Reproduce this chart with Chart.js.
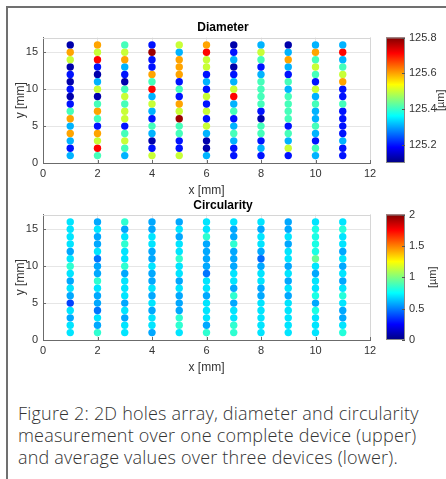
<!DOCTYPE html>
<html><head><meta charset="utf-8">
<script src="https://cdn.jsdelivr.net/npm/chart.js@4.4.1/dist/chart.umd.min.js"></script>
<style>
html,body{margin:0;padding:0;background:#fff;}
body{width:446px;height:479px;overflow:hidden;position:relative;}
#frame{position:absolute;left:6px;top:6px;width:600px;height:600px;border-left:2px solid #707070;border-top:2px solid #707070;}
canvas{position:absolute;left:0;}
#c1{top:0;}
#c2{top:198px;}
#caption{position:absolute;left:18px;top:402px;font-family:"Open Sans",Lato,sans-serif;font-weight:300;font-size:18px;letter-spacing:0.2px;line-height:22px;color:#333;white-space:nowrap;}
</style></head>
<body>
<div id="frame"></div>
<canvas id="c1" width="446" height="198" style="width:446px;height:198px"></canvas>
<canvas id="c2" width="446" height="187" style="width:446px;height:187px"></canvas>
<div id="caption">Figure 2: 2D holes array, diameter and circularity<br>measurement over one complete device (upper)<br>and average values over three devices (lower).</div>
<script>
// ---- data ----
const xCols = [1,2,3,4,5,6,7,8,9,10,11];
const yRows = [1,2,3,4,5,6,7,8,9,10,11,12,13,14,15,16];
const xTicks = [0,2,4,6,8,10,12];
const yTicks = [0,5,10,15];
const diameterTicks = [125.2,125.4,125.6,125.8];
const circularityTicks = [0,0.5,1,1.5,2];
const diameterRange = [125.1,125.8];
const circularityRange = [0,2];

// Diameter [µm], one array per x column, rows y = 1..16
const diameterX1  = [125.31,125.20,125.31,125.60,125.31,125.60,125.41,125.20,125.13,125.20,125.13,125.20,125.13,125.50,125.60,125.13];
const diameterX2  = [125.41,125.71,125.50,125.60,125.20,125.41,125.60,125.41,125.13,125.50,125.31,125.13,125.20,125.71,125.50,125.60];
const diameterX3  = [125.31,125.41,125.50,125.41,125.20,125.50,125.50,125.41,125.50,125.41,125.13,125.20,125.31,125.60,125.50,125.41];
const diameterX4  = [125.50,125.20,125.13,125.31,125.41,125.20,125.31,125.50,125.31,125.71,125.41,125.60,125.20,125.20,125.78,125.20];
const diameterX5  = [125.50,125.20,125.20,125.41,125.41,125.78,125.50,125.60,125.20,125.41,125.20,125.60,125.60,125.60,125.31,125.50];
const diameterX6  = [125.31,125.13,125.13,125.31,125.50,125.20,125.50,125.20,125.50,125.20,125.31,125.20,125.50,125.50,125.71,125.60];
const diameterX7  = [125.20,125.20,125.31,125.41,125.31,125.20,125.41,125.31,125.71,125.50,125.31,125.20,125.13,125.31,125.20,125.13];
const diameterX8  = [125.20,125.31,125.20,125.41,125.41,125.13,125.20,125.41,125.41,125.41,125.41,125.31,125.20,125.41,125.50,125.31];
const diameterX9  = [125.20,125.50,125.31,125.41,125.20,125.41,125.41,125.41,125.41,125.31,125.41,125.20,125.31,125.60,125.31,125.13];
const diameterX10 = [125.31,125.41,125.20,125.31,125.41,125.31,125.31,125.41,125.31,125.50,125.20,125.41,125.50,125.41,125.60,125.31];
const diameterX11 = [125.20,125.20,125.31,125.20,125.20,125.20,125.20,125.41,125.20,125.20,125.60,125.50,125.41,125.31,125.71,125.31];

// Circularity [µm], one array per x column, rows y = 1..16
const circularityX1  = [0.70,0.70,0.58,0.70,0.38,0.58,0.70,0.58,0.70,0.84,0.70,0.58,0.70,0.70,0.70,0.70];
const circularityX2  = [0.84,0.58,0.70,0.48,0.58,0.58,0.70,0.84,0.58,0.58,0.48,0.70,0.58,0.58,0.70,0.58];
const circularityX3  = [0.70,0.70,0.58,0.70,0.58,0.70,0.70,0.70,0.58,0.84,0.70,0.70,0.84,0.70,0.58,0.84];
const circularityX4  = [0.58,0.70,0.70,0.58,0.70,0.58,0.70,0.58,0.58,0.70,0.58,0.58,0.70,0.70,0.58,0.58];
const circularityX5  = [0.70,0.84,0.84,0.58,0.58,0.58,0.70,0.58,0.70,0.70,0.84,0.70,0.70,0.58,0.70,0.58];
const circularityX6  = [0.84,0.58,0.70,0.70,0.70,0.58,0.70,0.70,0.48,0.58,0.58,0.58,0.58,0.84,0.70,0.70];
const circularityX7  = [0.84,0.84,0.70,0.70,0.58,0.84,0.58,0.70,0.70,0.58,0.58,0.58,0.84,0.58,0.58,0.70];
const circularityX8  = [0.70,0.70,0.70,0.70,0.70,0.58,0.58,0.70,0.70,0.58,0.46,0.58,0.70,0.70,0.58,0.70];
const circularityX9  = [0.70,0.70,0.70,0.70,0.70,0.58,0.70,0.58,0.70,0.58,0.70,0.70,0.58,0.70,0.58,0.58];
const circularityX10 = [0.70,0.70,0.70,0.80,0.58,0.80,0.70,0.70,0.58,0.70,0.95,0.80,0.80,0.80,0.80,0.70];
const circularityX11 = [0.82,0.70,0.58,0.58,0.70,0.82,0.70,0.58,0.70,0.58,0.70,0.58,0.70,0.70,0.82,0.70];

const diameterCols = [diameterX1,diameterX2,diameterX3,diameterX4,diameterX5,diameterX6,diameterX7,diameterX8,diameterX9,diameterX10,diameterX11];
const circularityCols = [circularityX1,circularityX2,circularityX3,circularityX4,circularityX5,circularityX6,circularityX7,circularityX8,circularityX9,circularityX10,circularityX11];

// ---- rendering ----
Chart.defaults.font.family = "'Liberation Sans', Arial, sans-serif";
Chart.defaults.color = '#333';

function jet(t){
  t = Math.max(0, Math.min(1, t));
  const c = v => Math.round(255 * Math.max(0, Math.min(1, v)));
  return 'rgb(' + c(Math.min(4*t-1.5, -4*t+4.5)) + ',' + c(Math.min(4*t-0.5, -4*t+3.5)) + ',' + c(Math.min(4*t+0.5, -4*t+2.5)) + ')';
}

function makeChart(id, title, cols, range, cbTicks, L){
  const points = [];
  cols.forEach((col, i) => col.forEach((v, j) => points.push({x: xCols[i], y: yRows[j], v: v})));
  const setTicks = arr => s => { s.ticks = arr.map(v => ({value: v})); };
  const fixFit = (dim, size) => s => {
    s[dim] = size;
    s.paddingTop = 0; s.paddingBottom = 0; s.paddingLeft = 0; s.paddingRight = 0;
  };
  const fmt = v => String(+(+v).toFixed(2));
  const decor = {
    id: 'decor',
    beforeDatasetsDraw(chart){
      const {ctx, chartArea: a} = chart;
      ctx.save();
      ctx.strokeStyle = '#d6d6d6'; ctx.lineWidth = 1;
      ctx.beginPath();
      ctx.moveTo(a.left, Math.round(a.top)+0.5); ctx.lineTo(a.right, Math.round(a.top)+0.5);
      ctx.moveTo(Math.round(a.right)+0.5, a.top); ctx.lineTo(Math.round(a.right)+0.5, a.bottom);
      ctx.stroke();
      ctx.strokeStyle = '#6b6b6b';
      ctx.beginPath();
      const xs = chart.scales.x, ys = chart.scales.y;
      xTicks.forEach(v => { const p = Math.round(xs.getPixelForValue(v))+0.5; ctx.moveTo(p, a.bottom); ctx.lineTo(p, a.bottom-3); });
      yTicks.forEach(v => { const p = Math.round(ys.getPixelForValue(v))+0.5; ctx.moveTo(a.left, p); ctx.lineTo(a.left+3, p); });
      ctx.stroke();
      ctx.restore();
    },
    afterDraw(chart){
      const {ctx, chartArea: a} = chart;
      const cb = chart.scales.cb;
      const x0 = a.right + 16, w = 19;
      const top = cb.getPixelForValue(range[1]), bot = cb.getPixelForValue(range[0]);
      ctx.save();
      const g = ctx.createLinearGradient(0, bot, 0, top);
      [0, 0.125, 0.375, 0.625, 0.875, 1].forEach(s => g.addColorStop(s, jet(s)));
      ctx.fillStyle = g;
      ctx.fillRect(x0, top, w, bot - top);
      ctx.strokeStyle = '#8a8a8a'; ctx.lineWidth = 1;
      ctx.strokeRect(x0 + 0.5, top + 0.5, w - 1, bot - top - 1);
      ctx.strokeStyle = '#555';
      ctx.beginPath();
      cbTicks.forEach(v => { const p = Math.round(cb.getPixelForValue(v))+0.5; ctx.moveTo(x0+w, p); ctx.lineTo(x0+w-3, p); });
      ctx.stroke();
      ctx.translate(L.cbLabelX, (top + bot) / 2);
      ctx.rotate(-Math.PI / 2);
      ctx.fillStyle = '#333';
      ctx.font = "11px 'Liberation Sans', Arial, sans-serif";
      ctx.textAlign = 'center'; ctx.textBaseline = 'middle';
      ctx.fillText('[µm]', 0, 0);
      ctx.restore();
    }
  };
  return new Chart(document.getElementById(id), {
    type: 'scatter',
    data: { datasets: [{
      data: points,
      pointRadius: 3.7,
      pointHoverRadius: 3.7,
      borderWidth: 0,
      pointBorderWidth: 0,
      backgroundColor: ctx => jet((ctx.raw.v - range[0]) / (range[1] - range[0])),
      pointBackgroundColor: ctx => jet((ctx.raw.v - range[0]) / (range[1] - range[0]))
    }]},
    options: {
      responsive: false,
      animation: false,
      events: [],
      layout: { padding: 0 },
      plugins: {
        legend: { display: false },
        tooltip: { enabled: false },
        title: { display: true, text: title, color: '#000',
                 font: { size: 12, weight: 'bold' },
                 padding: { top: L.titleTop, bottom: L.titleBottom } }
      },
      scales: {
        x: {
          type: 'linear', min: 0, max: 12,
          afterBuildTicks: setTicks(xTicks),
          afterFit: fixFit('height', L.xHeight),
          grid: { color: '#e6e6e6', drawTicks: false },
          border: { color: '#6b6b6b' },
          ticks: { font: { size: 11 }, color: '#333', padding: 4.5, maxRotation: 0, callback: fmt },
          title: { display: true, text: 'x [mm]', color: '#333', font: { size: 12 }, padding: { top: 0, bottom: L.xTitleBottom } }
        },
        y: {
          type: 'linear', min: 0, max: 17,
          afterBuildTicks: setTicks(yTicks),
          afterFit: fixFit('width', 43),
          grid: { color: '#e6e6e6', drawTicks: false },
          border: { color: '#6b6b6b' },
          ticks: { font: { size: 11 }, color: '#333', padding: 5, callback: fmt },
          title: { display: true, text: 'y [mm]', color: '#333', font: { size: 12 }, padding: { top: 13, bottom: 0 } }
        },
        cb: {
          type: 'linear', position: 'right', min: range[0], max: range[1],
          afterBuildTicks: setTicks(cbTicks),
          afterFit: fixFit('width', 76),
          grid: { display: false, drawTicks: false },
          border: { display: false },
          ticks: { font: { size: 11 }, color: '#333', padding: 39, callback: fmt }
        }
      }
    },
    plugins: [decor]
  });
}

makeChart('c1', 'Diameter', diameterCols, diameterRange, diameterTicks,
  { titleTop: 20.8, titleBottom: 2.3, xHeight: 35, xTitleBottom: 0.2, cbLabelX: 441 });
makeChart('c2', 'Circularity', circularityCols, circularityRange, circularityTicks,
  { titleTop: 0, titleBottom: 2.1, xHeight: 45, xTitleBottom: 10.5, cbLabelX: 433 });
</script>
</body></html>
